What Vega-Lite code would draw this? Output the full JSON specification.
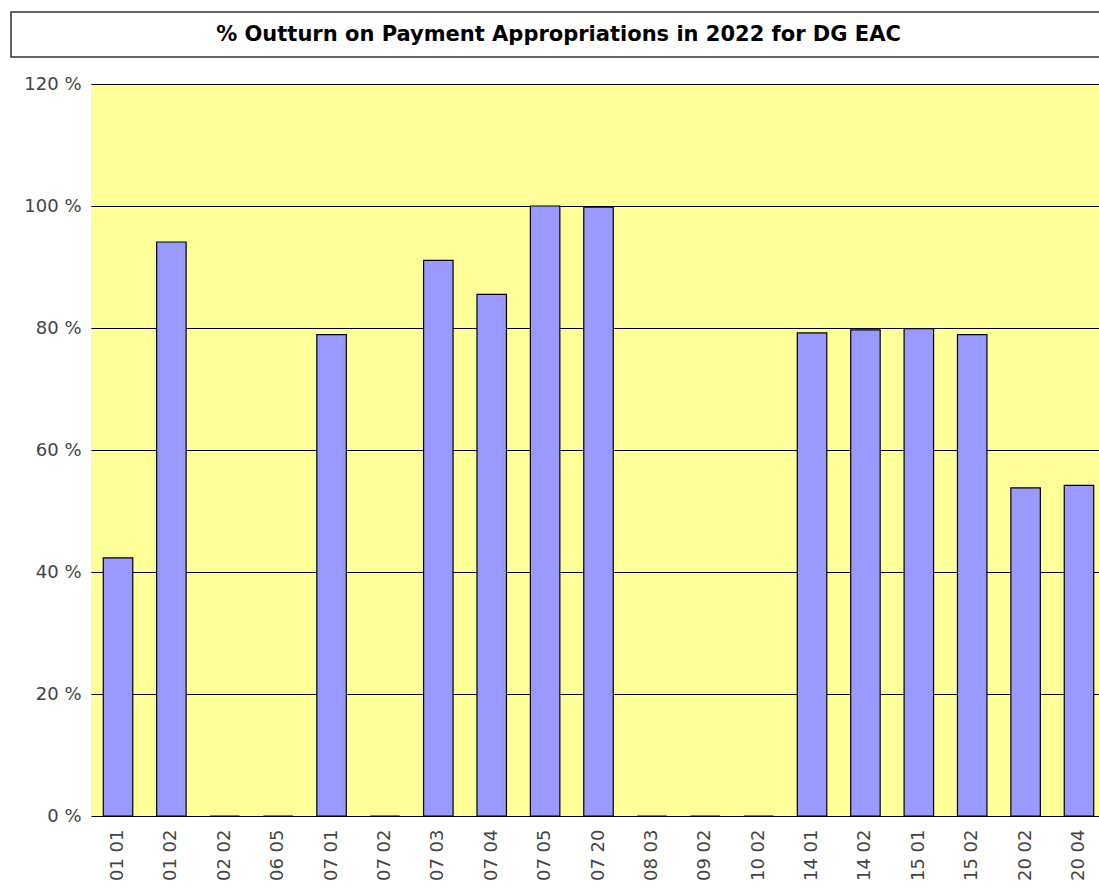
{
  "$schema": "https://vega.github.io/schema/vega-lite/v6.json",
  "autosize": {"type": "pad"},
  "padding": {"left": 10, "top": 11, "right": 0, "bottom": 0},
  "background": "white",
  "spacing": 17,
  "config": {
    "font": "DejaVu Sans",
    "view": {"stroke": null}
  },
  "vconcat": [
    {
      "width": 1095,
      "height": 45,
      "view": {"stroke": "#333333", "strokeWidth": 1.5, "fill": "white"},
      "data": {"values": [{"title": "% Outturn on Payment Appropriations in 2022 for DG EAC"}]},
      "mark": {"type": "text", "fontSize": 21, "fontWeight": "bold", "font": "DejaVu Sans", "color": "black", "baseline": "middle", "align": "center"},
      "encoding": {"text": {"field": "title"}}
    },
    {
      "align": "none",
      "spacing": 0,
      "hconcat": [
        {
          "width": 1,
          "height": 10,
          "data": {"values": [{"spacer": ""}]},
          "mark": {"type": "text", "opacity": 0},
          "encoding": {"text": {"field": "spacer"}}
        },
        {
          "width": 1015,
          "height": 732,
          "view": {"fill": "#ffff99", "stroke": null},
          "data": {"values": [
            {"budget_line": "01 01", "outturn": 42.3},
            {"budget_line": "01 02", "outturn": 94.1},
            {"budget_line": "02 02", "outturn": 0},
            {"budget_line": "06 05", "outturn": 0},
            {"budget_line": "07 01", "outturn": 78.9},
            {"budget_line": "07 02", "outturn": 0},
            {"budget_line": "07 03", "outturn": 91.1},
            {"budget_line": "07 04", "outturn": 85.5},
            {"budget_line": "07 05", "outturn": 100},
            {"budget_line": "07 20", "outturn": 99.8},
            {"budget_line": "08 03", "outturn": 0},
            {"budget_line": "09 02", "outturn": 0},
            {"budget_line": "10 02", "outturn": 0},
            {"budget_line": "14 01", "outturn": 79.2},
            {"budget_line": "14 02", "outturn": 79.7},
            {"budget_line": "15 01", "outturn": 79.9},
            {"budget_line": "15 02", "outturn": 78.9},
            {"budget_line": "20 02", "outturn": 53.8},
            {"budget_line": "20 04", "outturn": 54.2}
          ]},
          "mark": {"type": "bar", "fill": "#9999ff", "stroke": "black", "strokeWidth": 1.2, "clip": false},
          "encoding": {
            "x": {
              "field": "budget_line", "type": "nominal", "sort": null,
              "scale": {"paddingInner": 0.448, "paddingOuter": 0.23},
              "axis": {"title": null, "labelAngle": -90, "ticks": false, "domain": false, "labelPadding": 13, "labelFontSize": 18, "labelColor": "#444444", "labelFont": "DejaVu Sans"}
            },
            "y": {
              "field": "outturn", "type": "quantitative",
              "scale": {"domain": [0, 120], "nice": false},
              "axis": {"title": null, "values": [0, 20, 40, 60, 80, 100, 120], "labelExpr": "datum.value + ' %'", "ticks": false, "domain": false, "labelPadding": 10, "labelFontSize": 18, "labelColor": "#444444", "labelFont": "DejaVu Sans", "grid": true, "gridColor": "black", "gridOpacity": 1, "gridWidth": 1.2, "minExtent": 79, "maxExtent": 79}
            }
          }
        }
      ]
    }
  ]
}
